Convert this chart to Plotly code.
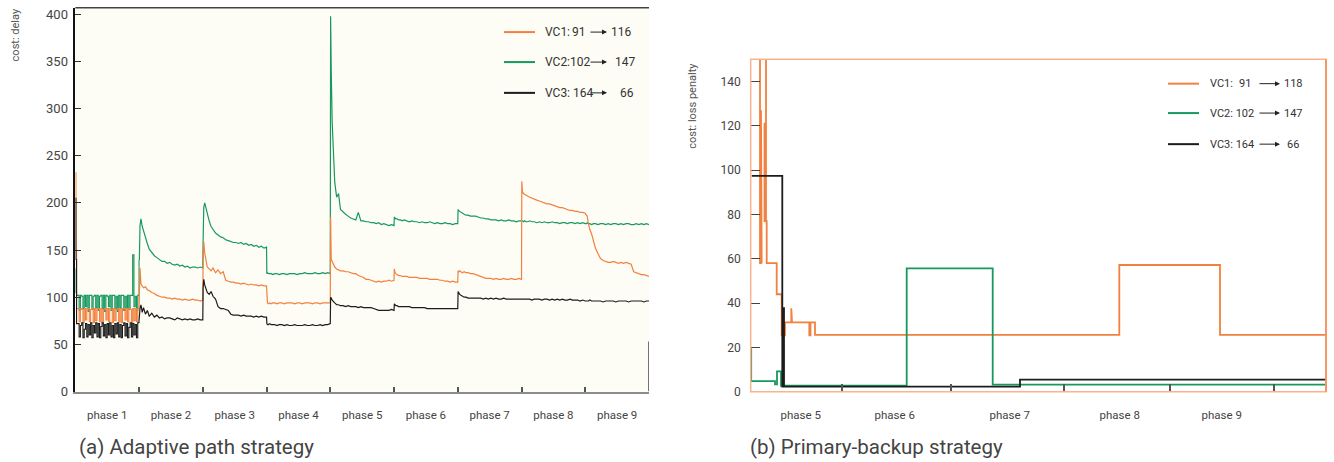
import plotly.graph_objects as go

# ---------------- data: (a) adaptive path strategy ----------------
PHASES_A = ["phase 1", "phase 2", "phase 3", "phase 4", "phase 5",
            "phase 6", "phase 7", "phase 8", "phase 9"]
PHASE_EDGES_A = [0, 100, 200, 300, 400, 500, 600, 700, 800, 900]

# sample offsets inside phase 1 and inside phases 2..9 (time steps)
P1_OFFSETS = [0, 1, 2] + list(range(4, 101, 2))
SEG_OFFSETS = [0.5, 1.5, 3, 5, 7, 10, 13, 16, 20, 24, 28, 32, 36, 40, 44,
               48, 52, 56, 60, 64, 68, 72, 76, 80, 84, 88, 92, 96, 100]

vc1_a_p1 = [232, 150, 88,
            88, 74, 88, 87, 73, 88, 76,
            88, 88, 74, 87, 88, 73, 88,
            75, 88, 88, 74, 88, 73, 87,
            88, 76, 88, 74, 88, 88, 73,
            88, 75, 87, 88, 74, 88, 73,
            88, 88, 76, 88, 74, 88, 87,
            73, 88, 75, 88, 74, 88, 88]
vc1_a_rest = [
    [118, 131, 114, 112, 110, 111, 108, 107, 105, 104, 102, 101, 100, 100, 99, 99, 98, 99, 98, 98, 97, 98, 97, 97, 98, 97, 97, 96, 97],
    [140, 159, 147, 138, 132, 130, 128, 131, 126, 129, 125, 127, 118, 117, 116, 116, 115, 115, 114, 115, 114, 113, 114, 113, 113, 112, 113, 112, 112],
    [94, 94, 93, 94, 93, 94, 94, 93, 94, 94, 93, 94, 94, 94, 93, 94, 94, 93, 94, 94, 94, 93, 94, 94, 93, 94, 94, 94, 94],
    [185, 140, 138, 134, 132, 130, 129, 128, 128, 127, 127, 126, 125, 125, 123, 122, 121, 119, 119, 118, 117, 116, 117, 116, 117, 117, 118, 117, 118],
    [130, 126, 125, 124, 123, 123, 122, 122, 122, 121, 121, 121, 121, 120, 120, 120, 120, 119, 119, 119, 119, 118, 118, 117, 117, 116, 117, 116, 116],
    [128, 127, 128, 127, 126, 127, 126, 126, 125, 125, 124, 123, 122, 121, 120, 120, 120, 119, 120, 119, 119, 120, 119, 119, 120, 119, 119, 120, 119],
    [223, 212, 210, 209, 208, 207, 206, 205, 204, 203, 202, 201, 200, 199, 199, 198, 197, 196, 195, 195, 194, 193, 192, 192, 191, 191, 190, 190, 189],
    [188, 187, 186, 178, 172, 167, 160, 152, 146, 141, 139, 138, 137, 137, 138, 137, 136, 137, 136, 137, 136, 135, 127, 126, 125, 124, 124, 123, 122],
]

vc2_a_p1 = [130, 105, 102,
            102, 86, 102, 101, 88, 102, 90,
            102, 85, 102, 102, 87, 101, 102,
            89, 102, 86, 101, 102, 88, 102,
            85, 102, 101, 90, 102, 86, 102,
            102, 88, 101, 85, 102, 89, 102,
            102, 86, 101, 88, 102, 87, 102,
            102, 145, 90, 101, 86, 102, 140]
vc2_a_rest = [
    [140, 176, 183, 175, 170, 163, 157, 151, 147, 144, 142, 140, 138, 138, 136, 137, 135, 134, 135, 133, 134, 132, 133, 131, 132, 132, 131, 132, 131],
    [160, 195, 200, 194, 188, 181, 175, 172, 168, 166, 164, 163, 161, 160, 159, 158, 158, 157, 158, 156, 157, 155, 156, 154, 155, 153, 154, 152, 153],
    [125, 126, 125, 125, 125, 124, 125, 125, 124, 125, 125, 124, 125, 125, 125, 124, 125, 125, 126, 125, 125, 125, 126, 125, 125, 126, 125, 126, 125],
    [398, 340, 285, 245, 222, 206, 210, 193, 190, 188, 186, 184, 183, 182, 190, 181, 181, 180, 180, 179, 179, 178, 179, 177, 178, 177, 176, 177, 176],
    [185, 184, 183, 183, 182, 182, 181, 182, 181, 180, 181, 180, 180, 179, 180, 179, 179, 180, 179, 178, 179, 178, 178, 179, 178, 178, 177, 178, 178],
    [193, 192, 191, 190, 189, 188, 187, 187, 186, 186, 186, 185, 184, 184, 183, 183, 182, 182, 182, 181, 182, 181, 181, 182, 181, 181, 180, 181, 181],
    [181, 181, 180, 181, 180, 180, 181, 180, 180, 179, 180, 179, 180, 179, 179, 180, 179, 179, 178, 179, 179, 178, 179, 179, 178, 179, 178, 179, 178],
    [178, 178, 179, 178, 178, 177, 178, 178, 177, 178, 178, 177, 178, 177, 178, 178, 177, 178, 177, 178, 178, 177, 177, 178, 177, 178, 177, 178, 177],
]

vc3_a_p1 = [205, 140, 72,
            72, 58, 70, 73, 57, 66, 72,
            58, 71, 60, 73, 57, 70, 62,
            73, 58, 72, 57, 69, 73, 59,
            71, 57, 72, 60, 73, 58, 70,
            57, 72, 61, 73, 58, 71, 57,
            70, 73, 59, 72, 57, 68, 73,
            58, 72, 60, 71, 57, 73, 75]
vc3_a_rest = [
    [80, 88, 92, 84, 89, 82, 86, 80, 83, 79, 81, 78, 79, 77, 78, 78, 77, 76, 78, 77, 76, 77, 76, 77, 76, 76, 77, 76, 76],
    [110, 119, 113, 108, 105, 103, 106, 101, 98, 90, 88, 88, 87, 86, 82, 81, 81, 81, 80, 81, 80, 80, 80, 79, 80, 79, 80, 79, 79],
    [72, 71, 71, 72, 71, 71, 71, 70, 71, 71, 70, 71, 70, 70, 71, 70, 70, 70, 71, 70, 70, 71, 70, 70, 71, 70, 71, 71, 72],
    [100, 99, 97, 95, 94, 92, 92, 91, 91, 90, 91, 90, 90, 90, 89, 90, 89, 89, 89, 89, 88, 87, 86, 86, 86, 86, 86, 87, 86],
    [93, 92, 91, 91, 90, 90, 90, 90, 90, 90, 89, 89, 89, 89, 89, 89, 88, 88, 88, 88, 88, 88, 88, 88, 88, 88, 88, 88, 88],
    [106, 104, 103, 102, 101, 100, 100, 99, 99, 99, 99, 99, 99, 98, 99, 98, 99, 98, 99, 98, 98, 99, 98, 98, 98, 98, 98, 98, 98],
    [98, 98, 98, 98, 98, 98, 98, 97, 98, 98, 98, 97, 98, 98, 97, 98, 97, 98, 97, 98, 97, 97, 98, 97, 97, 97, 96, 97, 96],
    [96, 96, 96, 96, 97, 96, 96, 96, 96, 96, 95, 96, 96, 96, 96, 95, 96, 96, 96, 96, 95, 96, 96, 96, 96, 96, 95, 96, 96],
]

# ---------------- data: (b) primary-backup strategy ----------------
PHASES_B = ["phase 5", "phase 6", "phase 7", "phase 8", "phase 9"]
PHASE_LABEL_T_B = [50, 144, 259, 369, 471]
PHASE_EDGES_B = [91, 200, 313, 419, 523]
T_END_B = 575.3

vc1_b_t = [9.3, 9.3, 10.3, 10.3, 11, 11, None,
           15.3, 15.3, 13.8, 13.8, 14.6, 14.6, 16, 16, 26, 26, 31, 31, 34.3, 34.3,
           40.6, 40.6, 41.3, 41.3, 58.6, 58.6, 59.8, 59.8, 64.3, 64.3,
           368.6, 368.6, 469.3, 469.3, 575.3]
vc1_b_v = [150, 58, 58, 127, 127, 58, None,
           150, 77, 77, 121, 121, 77, 77, 58, 58, 44, 44, 25.5, 25.5, 31.3,
           31.3, 37.7, 37.7, 31.3, 31.3, 25.5, 25.5, 31.3, 31.3, 25.7,
           25.7, 57.2, 57.2, 25.7, 25.7]
vc2_b_t = [0.5, 0.5, 24.3, 24.3, 26.3, 26.3, 30.3, 30.3, 156, 156, 242, 242, 575.3]
vc2_b_v = [19.6, 4.8, 4.8, 3.3, 3.3, 9.2, 9.2, 2.7, 2.7, 55.7, 55.7, 3.2, 3.2]
vc3_b_t = [1, 31.6, 31.6, 32.6, 32.6, 33.3, 33.3, 269.3, 269.3, 575.3]
vc3_b_v = [97.4, 97.4, 2.3, 2.3, 37.7, 37.7, 2.3, 2.3, 5.5, 5.5]

LEGEND_A = [("VC1:", "91", "116"), ("VC2:102", "", "147"), ("VC3: 164", "", "66")]
LEGEND_B = [("VC1:", "91", "118"), ("VC2: 102", "", "147"), ("VC3: 164", "", "66")]

ORANGE = "#f2803f"
GREEN = "#17985c"
BLACK = "#1c1c1c"
FONT = "Roboto"
W, H = 1334, 462


def build(p1, rest):
    t1 = [PHASE_EDGES_A[0] + o for o in P1_OFFSETS]
    assert len(p1) == len(t1)
    t, v = [t1[-1]], [p1[-1]]
    for k, seg in enumerate(rest):
        assert len(seg) == len(SEG_OFFSETS)
        for o, val in zip(SEG_OFFSETS, seg):
            t.append(PHASE_EDGES_A[k + 1] + o)
            v.append(val)
    return (t1, list(p1)), (t, v)


series_a = [(build(vc2_a_p1, vc2_a_rest), GREEN),
            (build(vc1_a_p1, vc1_a_rest), ORANGE),
            (build(vc3_a_p1, vc3_a_rest), BLACK)]

fig = go.Figure()
for ((t1, v1), (t, v)), c in series_a:
    fig.add_trace(go.Scatter(x=t1, y=v1, mode="lines", xaxis="x", yaxis="y",
                             line=dict(color=c, width=1.1, shape="hv"),
                             showlegend=False, hoverinfo="skip"))
    fig.add_trace(go.Scatter(x=t, y=v, mode="lines", xaxis="x", yaxis="y",
                             line=dict(color=c, width=1.2), showlegend=False,
                             hoverinfo="skip"))
for t, v, c in [(vc1_b_t, vc1_b_v, ORANGE), (vc2_b_t, vc2_b_v, GREEN),
                (vc3_b_t, vc3_b_v, BLACK)]:
    fig.add_trace(go.Scatter(x=t, y=v, mode="lines", xaxis="x2", yaxis="y2",
                             line=dict(color=c, width=1.8), showlegend=False,
                             connectgaps=False, hoverinfo="skip"))

centers_a = [(PHASE_EDGES_A[i] + PHASE_EDGES_A[i + 1]) / 2 for i in range(9)]

tickfont = dict(family=FONT, size=11.5, color="#444")
fig.update_layout(
    width=W, height=H, margin=dict(l=0, r=0, t=0, b=0),
    paper_bgcolor="white", plot_bgcolor="white",
    font=dict(family=FONT, color="#444"),
    xaxis=dict(domain=[75.3 / W, 649 / W], range=[0, 900], anchor="y",
               showgrid=False, zeroline=False, showline=True,
               linecolor="#8c8c8c", linewidth=2,
               tickmode="array", tickvals=centers_a, ticktext=PHASES_A,
               ticks="", tickfont=tickfont, ticklabelstandoff=12,
               minor=dict(tickmode="array", tickvals=PHASE_EDGES_A[1:-1],
                          ticks="inside", ticklen=5, tickcolor="#555",
                          tickwidth=1.5, showgrid=False)),
    yaxis=dict(domain=[1 - 398.3 / H, 1 - 7 / H], range=[0, 406.8], anchor="x",
               showgrid=False, zeroline=False, showline=True,
               linecolor="#111", linewidth=1.5,
               tickmode="array", tickvals=[0, 50, 100, 150, 200, 250, 300, 350, 400],
               ticks="inside", ticklen=6, tickcolor="#333", tickwidth=1,
               ticklabelstandoff=3,
               tickfont=dict(family=FONT, size=13, color="#444")),
    xaxis2=dict(domain=[750.7 / W, 1326 / W], range=[0, T_END_B], anchor="y2",
                showgrid=False, zeroline=False, showline=False,
                tickmode="array", tickvals=PHASE_LABEL_T_B, ticktext=PHASES_B,
                ticks="", tickfont=tickfont, ticklabelstandoff=15,
                minor=dict(tickmode="array", tickvals=PHASE_EDGES_B,
                           ticks="inside", ticklen=8, tickcolor="#555",
                           tickwidth=1.5, showgrid=False)),
    yaxis2=dict(domain=[1 - 398.5 / H, 1 - 59.5 / H], range=[0, 150], anchor="x2",
                showgrid=False, zeroline=False, showline=False,
                tickmode="array", tickvals=[0, 20, 40, 60, 80, 100, 120, 140],
                ticks="inside", ticklen=9, tickcolor="#444", tickwidth=1.2,
                ticklabelstandoff=9,
                tickfont=dict(family=FONT, size=12, color="#444")),
)

shapes = [
    # cream background of panel (a)
    dict(type="rect", xref="x domain", yref="y domain", x0=0, x1=1, y0=0, y1=1,
         fillcolor="#fdfdf6", line=dict(width=0), layer="below"),
    # top frame line of panel (a)
    dict(type="line", xref="x domain", yref="y domain", x0=0, x1=1, y0=1, y1=1,
         line=dict(color="#444", width=1.5)),
    # short right edge of panel (a)
    dict(type="line", xref="x", yref="y", x0=900, x1=900, y0=0, y1=53,
         line=dict(color="#444", width=1.5)),
    # orange frame of panel (b)
    dict(type="rect", xref="x2 domain", yref="y2 domain", x0=0, x1=1, y0=0, y1=1,
         line=dict(color="#f8b48c", width=1.5)),
    dict(type="line", xref="x2 domain", yref="y2 domain", x0=1, x1=1, y0=0, y1=1,
         line=dict(color="#f4874a", width=1.5)),
]

annotations = []


def px(x):
    return x / W


def py(y):
    return 1 - y / H


def legend(x_line0, x_line1, x_text, ys, entries, arrow_x0, arrow_x1, num_x, size, mid_dx):
    for (lab, mid, end), y, c in zip(entries, ys, [ORANGE, GREEN, BLACK]):
        shapes.append(dict(type="line", xref="paper", yref="paper",
                           x0=px(x_line0), x1=px(x_line1), y0=py(y), y1=py(y),
                           line=dict(color=c, width=2)))
        annotations.append(dict(xref="paper", yref="paper", x=px(x_text), y=py(y),
                                text=lab, showarrow=False, xanchor="left",
                                yanchor="middle",
                                font=dict(family=FONT, size=size, color="#333")))
        if mid:
            annotations.append(dict(xref="paper", yref="paper", x=px(x_text + mid_dx),
                                    y=py(y), text=mid, showarrow=False,
                                    xanchor="left", yanchor="middle",
                                    font=dict(family=FONT, size=size, color="#333")))
        annotations.append(dict(xref="paper", yref="paper", x=px(arrow_x1), y=py(y),
                                ax=-(arrow_x1 - arrow_x0), ay=0, text="",
                                showarrow=True, arrowhead=2, arrowsize=1,
                                arrowwidth=1, arrowcolor="#222", standoff=0))
        annotations.append(dict(xref="paper", yref="paper", x=px(num_x[end]), y=py(y),
                                text=end, showarrow=False, xanchor="left",
                                yanchor="middle",
                                font=dict(family=FONT, size=size, color="#333")))


legend(504, 535, 543, [31.7, 62.3, 93.7], LEGEND_A, 589, 607,
       {"116": 609, "147": 613, "66": 618}, 12, 27)
legend(1168, 1199, 1208, [84.3, 114.3, 146], LEGEND_B, 1258, 1280,
       {"118": 1281.5, "147": 1281.5, "66": 1285}, 11, 28.5)

annotations += [
    dict(xref="paper", yref="paper", x=px(15), y=py(6), text="cost: delay",
         textangle=-90, showarrow=False, xanchor="center", yanchor="top",
         font=dict(family=FONT, size=11, color="#555")),
    dict(xref="paper", yref="paper", x=px(693), y=py(61), text="cost: loss penalty",
         textangle=-90, showarrow=False, xanchor="center", yanchor="top",
         font=dict(family=FONT, size=11, color="#555")),
    dict(xref="paper", yref="paper", x=px(77), y=py(454.5),
         text="(a) Adaptive path strategy", showarrow=False, xanchor="left",
         yanchor="middle", font=dict(family=FONT, size=20.5, color="#444")),
    dict(xref="paper", yref="paper", x=px(748), y=py(454.5),
         text="(b) Primary-backup strategy", showarrow=False, xanchor="left",
         yanchor="middle", font=dict(family=FONT, size=20.5, color="#444")),
]

fig.update_layout(shapes=shapes, annotations=annotations)
fig.write_html("out.html", config={"displayModeBar": False},
               post_script="document.body.style.margin='0';document.body.style.overflow='hidden';")
